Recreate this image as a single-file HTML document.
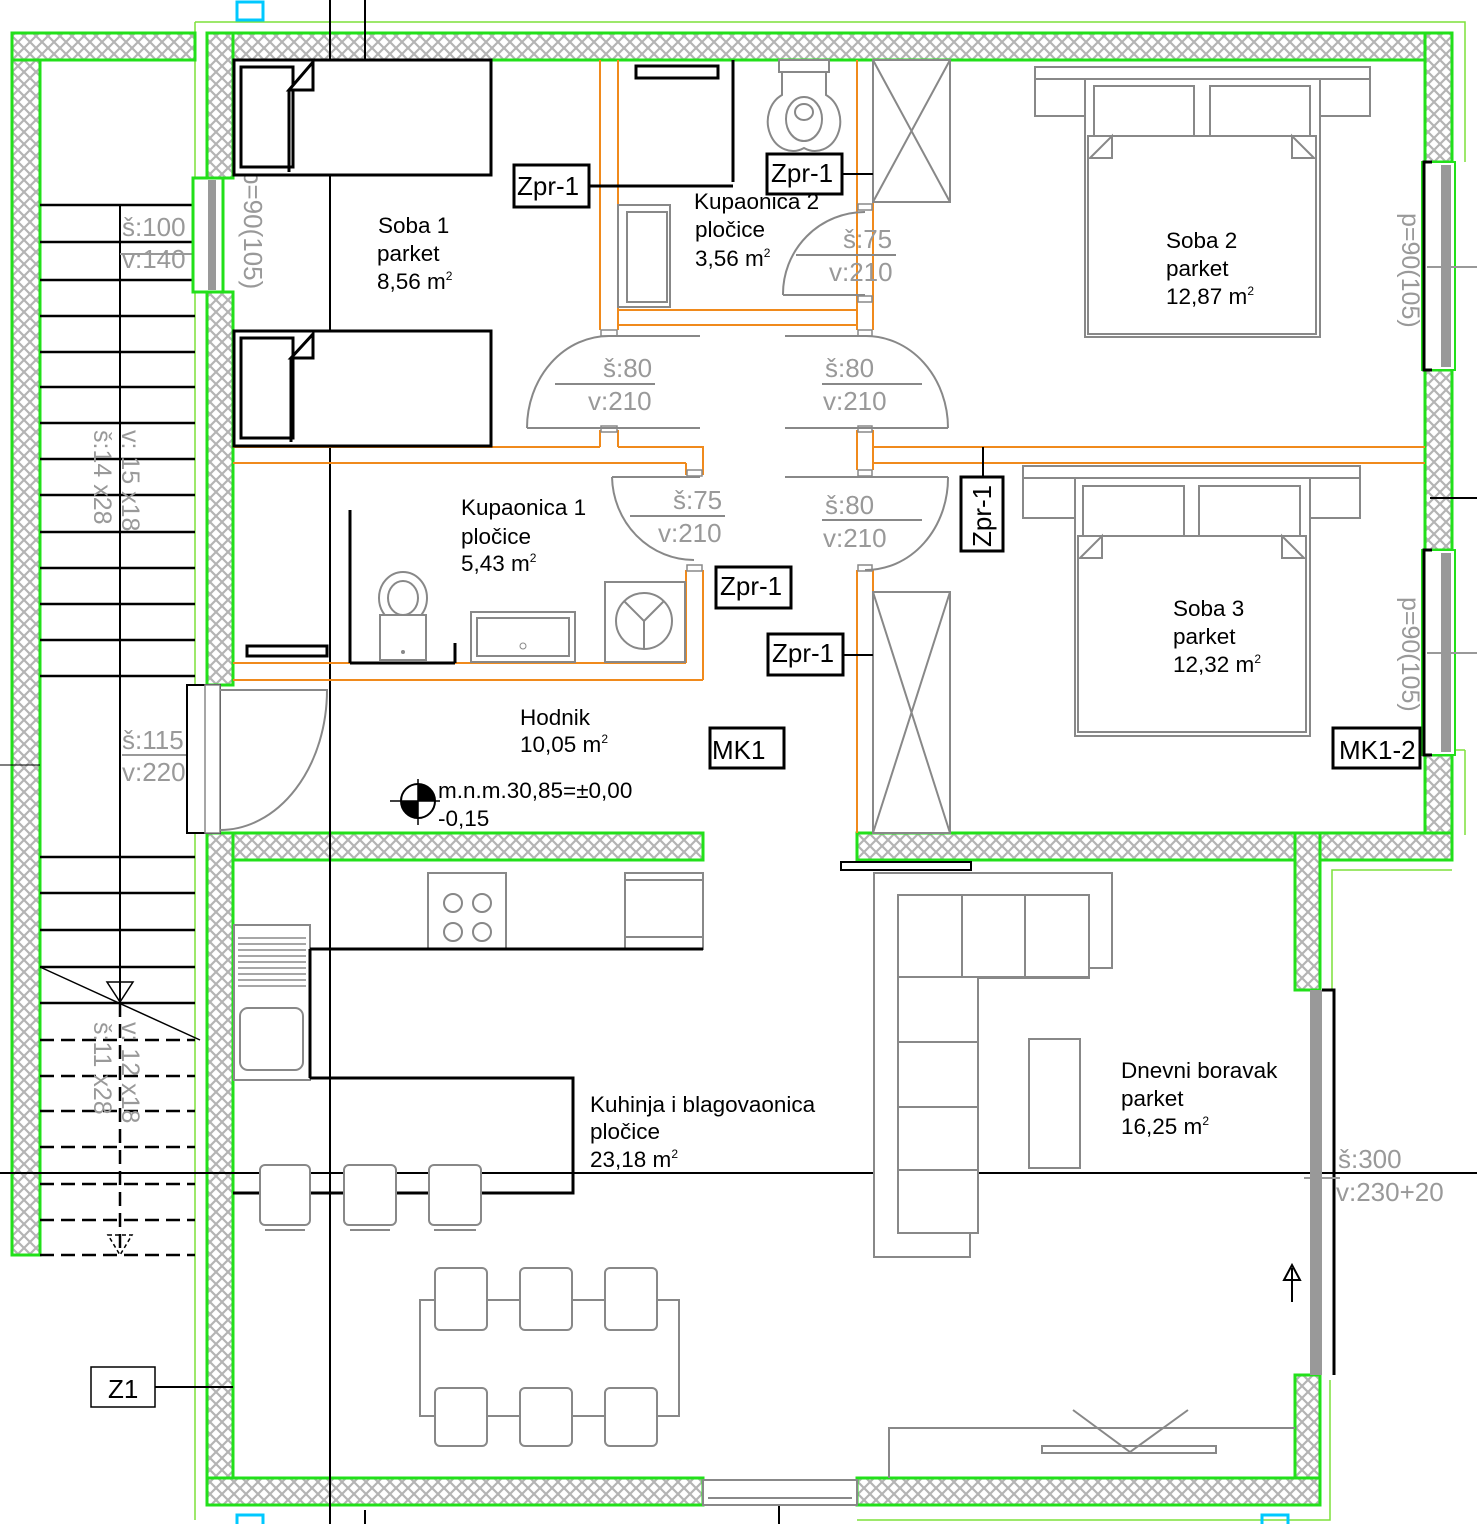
<!DOCTYPE html>
<html><head><meta charset="utf-8"><style>
html,body{margin:0;padding:0;background:#fff;width:1477px;height:1524px;overflow:hidden}
svg{display:block}
text{font-family:"Liberation Sans",sans-serif}
</style></head><body>
<svg width="1477" height="1524" viewBox="0 0 1477 1524" xmlns="http://www.w3.org/2000/svg">
<defs>
<pattern id="h" width="12" height="12" patternUnits="userSpaceOnUse">
<rect width="12" height="12" fill="#fff"/>
<path d="M0 0L12 12M12 0L0 12" stroke="#b4b4b4" stroke-width="2.2"/>
</pattern>
</defs>
<path d="M195 22H1465V162M1452 870H1332V990M195 22V178M195 292V1520M1330 1380V1520H857" fill="none" stroke="#7de03a" stroke-width="1.5"/>
<line x1="1452" y1="750" x2="1465" y2="750" stroke="#7de03a" stroke-width="1.5"/>
<line x1="1465" y1="750" x2="1465" y2="835" stroke="#7de03a" stroke-width="1.5"/>
<g fill="url(#h)" stroke="#22e01a" stroke-width="3">
<rect x="12" y="33" width="28" height="1222"/>
<rect x="12" y="33" width="183" height="27"/>
<rect x="207" y="33" width="1245" height="27"/>
<rect x="207" y="33" width="26" height="145"/>
<rect x="207" y="292" width="26" height="393"/>
<rect x="1425" y="33" width="27" height="129"/>
<rect x="1425" y="370" width="27" height="180"/>
<rect x="1425" y="755" width="27" height="105"/>
<rect x="857" y="833" width="595" height="27"/>
<rect x="1295" y="833" width="25" height="157"/>
<rect x="1295" y="1375" width="25" height="130"/>
<rect x="207" y="833" width="496" height="27"/>
<rect x="207" y="833" width="26" height="672"/>
<rect x="207" y="1478" width="496" height="27"/>
<rect x="857" y="1478" width="463" height="27"/>
</g>
<rect x="237" y="2" width="26" height="18" fill="none" stroke="#00c8ff" stroke-width="3"/>
<rect x="237" y="1515" width="26" height="12" fill="none" stroke="#00c8ff" stroke-width="3"/>
<rect x="1262" y="1515" width="26" height="12" fill="none" stroke="#00c8ff" stroke-width="3"/>
<g stroke="#000" stroke-width="2.5">
<line x1="40" y1="205" x2="195" y2="205"/><line x1="40" y1="242" x2="195" y2="242"/>
<line x1="40" y1="280" x2="195" y2="280"/><line x1="40" y1="316" x2="195" y2="316"/>
<line x1="40" y1="352" x2="195" y2="352"/><line x1="40" y1="387" x2="195" y2="387"/>
<line x1="40" y1="423" x2="195" y2="423"/><line x1="40" y1="459" x2="195" y2="459"/>
<line x1="40" y1="495" x2="195" y2="495"/><line x1="40" y1="532" x2="195" y2="532"/>
<line x1="40" y1="568" x2="195" y2="568"/><line x1="40" y1="604" x2="195" y2="604"/>
<line x1="40" y1="640" x2="195" y2="640"/><line x1="40" y1="676" x2="195" y2="676"/>
<line x1="40" y1="857" x2="195" y2="857"/><line x1="40" y1="893" x2="195" y2="893"/>
<line x1="40" y1="930" x2="195" y2="930"/><line x1="40" y1="967" x2="195" y2="967"/>
<line x1="40" y1="1003" x2="195" y2="1003"/>
</g>
<g stroke="#000" stroke-width="2.5" stroke-dasharray="14,7">
<line x1="40" y1="1040" x2="195" y2="1040"/><line x1="40" y1="1076" x2="195" y2="1076"/>
<line x1="40" y1="1111" x2="195" y2="1111"/><line x1="40" y1="1147" x2="195" y2="1147"/>
<line x1="40" y1="1184" x2="195" y2="1184"/><line x1="40" y1="1220" x2="195" y2="1220"/>
<line x1="40" y1="1255" x2="195" y2="1255"/>
<line x1="120" y1="1003" x2="120" y2="1255"/>
</g>
<line x1="120" y1="205" x2="120" y2="1003" stroke="#000" stroke-width="2"/>
<line x1="40" y1="967" x2="200" y2="1040" stroke="#000" stroke-width="1.5"/>
<path d="M107 982L133 982L120 1002Z" fill="none" stroke="#000" stroke-width="1.5"/>
<path d="M108 1235L132 1235L120 1255Z" fill="none" stroke="#000" stroke-width="1.5" stroke-dasharray="4,3"/>
<g fill="#999" font-size="26">
<text transform="translate(94,430) rotate(90)" font-size="25">š:14 x28</text>
<text transform="translate(122,430) rotate(90)" font-size="25">v: 15 x18</text>
<text transform="translate(94,1022) rotate(90)" font-size="25">š:11 x28</text>
<text transform="translate(122,1022) rotate(90)" font-size="25">v: 12 x18</text>
<text x="122" y="236">š:100</text><text x="122" y="268">v:140</text>
<text x="122" y="749">š:115</text><text x="122" y="781">v:220</text>
</g>
<line x1="40" y1="242" x2="215" y2="242" stroke="#000" stroke-width="2"/>
<line x1="120" y1="254" x2="195" y2="254" stroke="#999" stroke-width="2"/>
<line x1="122" y1="755" x2="190" y2="755" stroke="#999" stroke-width="2"/>
<rect x="193" y="178" width="30" height="114" fill="#fff" stroke="#22e01a" stroke-width="3"/>
<rect x="208" y="180" width="8" height="110" fill="#999"/>
<text transform="translate(244,170) rotate(90)" fill="#999" font-size="26">p=90(105)</text>
<rect x="187" y="685" width="33" height="148" fill="#fff" stroke="#000" stroke-width="2"/>
<path d="M220 690L327 690A107 140 0 0 1 220 830" fill="none" stroke="#888" stroke-width="2"/>
<rect x="205" y="685" width="15" height="148" fill="#fff" stroke="#888" stroke-width="1.5"/>
<g stroke="#000" stroke-width="2">
<line x1="330" y1="0" x2="330" y2="1524"/>
<line x1="365" y1="0" x2="365" y2="62"/>
<line x1="365" y1="1510" x2="365" y2="1524"/>
<line x1="0" y1="1173" x2="1477" y2="1173"/>
<line x1="779" y1="1480" x2="779" y2="1524"/>
</g>
<g stroke="#f08a1c" stroke-width="2" fill="none">
<path d="M600 60V330M618 60V330M600 430V447M618 430V447"/>
<path d="M618 310H857M618 325H857"/>
<path d="M857 60V330M873 60V330M857 430V470M873 430V470M857 570V833M873 570V833"/>
<path d="M233 447H600M233 463H686M618 447H703V463"/>
<path d="M686 463V475M703 447V475M686 570V663M703 570V680"/>
<path d="M233 663H686M233 680H703"/>
<path d="M873 447H1425M873 463H1425"/>
</g>
<g fill="#fff" stroke="#888" stroke-width="1.5">
<rect x="601" y="330" width="16" height="6"/><rect x="601" y="426" width="16" height="6"/>
<rect x="858" y="330" width="14" height="6"/><rect x="858" y="426" width="14" height="6"/>
<rect x="858" y="204" width="14" height="6"/><rect x="858" y="296" width="14" height="6"/>
<rect x="858" y="470" width="14" height="6"/><rect x="858" y="565" width="14" height="6"/>
<rect x="687" y="470" width="15" height="6"/><rect x="687" y="565" width="15" height="6"/>
</g>
<g stroke="#888" stroke-width="2" fill="none">
<path d="M527 428A82 92 0 0 1 609 336L700 336"/><path d="M527 428H700"/>
<path d="M948 428A82 92 0 0 0 865 336L785 336"/><path d="M785 428H948"/>
<path d="M783 295A82 82 0 0 1 865 212"/><path d="M783 295H865"/>
<path d="M612 477A82 85 0 0 0 694 560"/><path d="M612 477H700"/>
<path d="M948 477A82 92 0 0 1 865 570"/><path d="M785 477H948"/>
</g>
<g stroke="#888" stroke-width="2">
<line x1="555" y1="384" x2="655" y2="384"/><line x1="822" y1="384" x2="922" y2="384"/>
<line x1="822" y1="520" x2="922" y2="520"/><line x1="796" y1="255" x2="896" y2="255"/>
<line x1="630" y1="516" x2="725" y2="516"/>
</g>
<g fill="#999" font-size="26">
<text x="603" y="377">š:80</text><text x="588" y="410">v:210</text>
<text x="825" y="377">š:80</text><text x="823" y="410">v:210</text>
<text x="843" y="248">š:75</text><text x="829" y="281">v:210</text>
<text x="673" y="509">š:75</text><text x="658" y="542">v:210</text>
<text x="825" y="514">š:80</text><text x="823" y="547">v:210</text>
</g>
<g stroke="#000" stroke-width="3" fill="#fff">
<rect x="234" y="60" width="257" height="115"/>
<rect x="241" y="67" width="52" height="100"/>
<path d="M289 90L313 62V90ZM289 90V172"/>
<rect x="234" y="331" width="257" height="115"/>
<rect x="241" y="338" width="52" height="100"/>
<path d="M291 358L313 334V358ZM291 358V442"/>
</g>
<g stroke="#000" stroke-width="3" fill="none">
<rect x="636" y="66" width="82" height="12"/>
<line x1="733" y1="60" x2="733" y2="182"/>
<line x1="590" y1="186" x2="733" y2="186"/>
<line x1="350" y1="510" x2="350" y2="663"/>
<rect x="247" y="646" width="80" height="10"/>
<line x1="350" y1="663" x2="455" y2="663"/>
<line x1="455" y1="643" x2="455" y2="663"/>
</g>
<g stroke="#888" stroke-width="2" fill="#fff">
<rect x="618" y="205" width="52" height="102"/><rect x="627" y="212" width="40" height="90"/>
<rect x="779" y="60" width="50" height="12"/>
<path d="M782 72H826V95A24 28 0 0 1 804 148A24 28 0 0 1 782 95Z"/>
<ellipse cx="804" cy="119" rx="18" ry="22"/><ellipse cx="804" cy="112" rx="9" ry="8"/>
<rect x="873" y="60" width="77" height="142"/><path d="M873 60L950 202M950 60L873 202" fill="none"/>
<rect x="873" y="592" width="77" height="241"/><path d="M873 592L950 833M950 592L873 833" fill="none"/>
<ellipse cx="403" cy="598" rx="24" ry="26"/><ellipse cx="403" cy="598" rx="15" ry="17"/>
<rect x="380" y="615" width="46" height="45"/>
<rect x="471" y="612" width="104" height="50"/><rect x="477" y="618" width="92" height="38"/>
<rect x="605" y="582" width="80" height="80"/>
<circle cx="644" cy="621" r="28"/><path d="M644 621L624 601M644 621L664 601M644 621V649" fill="none"/>
</g>
<circle cx="523" cy="646" r="3" fill="none" stroke="#888"/>
<circle cx="403" cy="652" r="2" fill="#888"/>
<g stroke="#888" stroke-width="2" fill="#fff">
<rect x="1035" y="67" width="335" height="12"/>
<rect x="1035" y="79" width="50" height="37"/><rect x="1320" y="79" width="50" height="37"/>
<rect x="1085" y="79" width="235" height="258"/>
<rect x="1094" y="86" width="100" height="50"/><rect x="1210" y="86" width="100" height="50"/>
<rect x="1088" y="136" width="228" height="198"/>
<path d="M1090 158L1112 136V158ZM1314 158L1292 136V158Z"/>
<rect x="1023" y="466" width="337" height="12"/>
<rect x="1023" y="478" width="53" height="40"/><rect x="1307" y="478" width="53" height="40"/>
<rect x="1075" y="478" width="235" height="258"/>
<rect x="1083" y="486" width="101" height="50"/><rect x="1199" y="486" width="101" height="50"/>
<rect x="1078" y="536" width="228" height="196"/>
<path d="M1080 558L1102 536V558ZM1304 558L1282 536V558Z"/>
</g>
<g>
<rect x="1422" y="162" width="33" height="208" fill="#fff" stroke="#22e01a" stroke-width="2"/>
<rect x="1422" y="550" width="33" height="205" fill="#fff" stroke="#22e01a" stroke-width="2"/>
<rect x="1441" y="165" width="10" height="202" fill="#999"/>
<rect x="1441" y="553" width="10" height="199" fill="#999"/>
<path d="M1432 162H1424V370H1432M1432 550H1424V755H1432" fill="none" stroke="#000" stroke-width="3"/>
<line x1="1427" y1="267" x2="1477" y2="267" stroke="#999" stroke-width="2"/>
<line x1="1427" y1="653" x2="1477" y2="653" stroke="#999" stroke-width="2"/>
<line x1="1430" y1="498" x2="1477" y2="498" stroke="#000" stroke-width="2"/>
</g>
<g fill="#999" font-size="25">
<text transform="translate(1402,213) rotate(90)">p=90(105)</text>
<text transform="translate(1402,597) rotate(90)">p=90(105)</text>
</g>
<g stroke="#888" stroke-width="2" fill="#fff">
<rect x="428" y="873" width="78" height="76"/>
<circle cx="453" cy="903" r="9"/><circle cx="482" cy="903" r="9"/>
<circle cx="453" cy="932" r="9"/><circle cx="482" cy="932" r="9"/>
<rect x="625" y="873" width="78" height="76"/><line x1="625" y1="880" x2="703" y2="880"/>
<rect x="625" y="937" width="78" height="12"/>
<rect x="234" y="925" width="76" height="155"/>
<rect x="240" y="1008" width="63" height="62" rx="8"/>
</g>
<g stroke="#888" stroke-width="1.5">
<line x1="238" y1="938" x2="306" y2="938"/><line x1="238" y1="944" x2="306" y2="944"/>
<line x1="238" y1="950" x2="306" y2="950"/><line x1="238" y1="956" x2="306" y2="956"/>
<line x1="238" y1="962" x2="306" y2="962"/><line x1="238" y1="968" x2="306" y2="968"/>
<line x1="238" y1="974" x2="306" y2="974"/><line x1="238" y1="980" x2="306" y2="980"/>
<line x1="238" y1="986" x2="306" y2="986"/>
</g>
<g stroke="#000" stroke-width="3" fill="none">
<path d="M310 949H703"/>
<path d="M310 1078H573V1193H233"/>
<line x1="310" y1="949" x2="310" y2="1078"/>
</g>
<g stroke="#888" stroke-width="2" fill="#fff">
<rect x="260" y="1165" width="50" height="60" rx="5"/><rect x="344" y="1165" width="52" height="60" rx="5"/><rect x="429" y="1165" width="52" height="60" rx="5"/>
<line x1="265" y1="1230" x2="305" y2="1230"/><line x1="350" y1="1230" x2="390" y2="1230"/><line x1="434" y1="1230" x2="476" y2="1230"/>
<rect x="420" y="1300" width="259" height="116"/>
<rect x="435" y="1268" width="52" height="62" rx="5"/><rect x="520" y="1268" width="52" height="62" rx="5"/><rect x="605" y="1268" width="52" height="62" rx="5"/>
<rect x="435" y="1388" width="52" height="58" rx="5"/><rect x="520" y="1388" width="52" height="58" rx="5"/><rect x="605" y="1388" width="52" height="58" rx="5"/>
<path d="M874 873H1112V968H1089V978H978V1233H970V1257H874Z"/>
<rect x="898" y="895" width="191" height="82"/>
<line x1="962" y1="895" x2="962" y2="977"/><line x1="1025" y1="895" x2="1025" y2="977"/>
<rect x="898" y="977" width="80" height="256"/>
<line x1="898" y1="1042" x2="978" y2="1042"/><line x1="898" y1="1107" x2="978" y2="1107"/><line x1="898" y1="1170" x2="978" y2="1170"/>
<rect x="1029" y="1039" width="51" height="129"/>
</g>
<path d="M889 1478V1428H1295" fill="none" stroke="#888" stroke-width="2"/>
<rect x="1042" y="1446" width="174" height="7" fill="#fff" stroke="#888" stroke-width="2"/>
<path d="M1073 1410L1130 1452L1188 1410" fill="none" stroke="#888" stroke-width="2"/>
<rect x="841" y="862" width="130" height="8" fill="#fff" stroke="#000" stroke-width="2"/>
<rect x="703" y="1480" width="154" height="25" fill="#fff" stroke="#888" stroke-width="2"/>
<line x1="708" y1="1498" x2="852" y2="1498" stroke="#888" stroke-width="2"/>
<rect x="1310" y="990" width="12" height="385" fill="#999"/>
<path d="M1322 990H1334V1375" fill="none" stroke="#000" stroke-width="3"/>
<line x1="1304" y1="1178" x2="1340" y2="1178" stroke="#999" stroke-width="2"/>
<path d="M1292 1302V1268M1284 1280L1292 1265L1300 1280Z" fill="none" stroke="#000" stroke-width="2"/>
<g fill="#999" font-size="26">
<text x="1338" y="1168">š:300</text><text x="1336" y="1201">v:230+20</text>
</g>
<g fill="#000" font-size="22.5">
<text x="378" y="233">Soba 1</text><text x="377" y="261">parket</text><text x="377" y="289">8,56 m<tspan font-size="12" dy="-9">2</tspan></text>
<text x="694" y="209">Kupaonica 2</text><text x="695" y="237">pločice</text><text x="695" y="266">3,56 m<tspan font-size="12" dy="-9">2</tspan></text>
<text x="1166" y="248">Soba 2</text><text x="1166" y="276">parket</text><text x="1166" y="304">12,87 m<tspan font-size="12" dy="-9">2</tspan></text>
<text x="461" y="515">Kupaonica 1</text><text x="461" y="544">pločice</text><text x="461" y="571">5,43 m<tspan font-size="12" dy="-9">2</tspan></text>
<text x="1173" y="616">Soba 3</text><text x="1173" y="644">parket</text><text x="1173" y="672">12,32 m<tspan font-size="12" dy="-9">2</tspan></text>
<text x="520" y="725">Hodnik</text><text x="520" y="752">10,05 m<tspan font-size="12" dy="-9">2</tspan></text>
<text x="438" y="798">m.n.m.30,85=±0,00</text><text x="438" y="826">-0,15</text>
<text x="1121" y="1078">Dnevni boravak</text><text x="1121" y="1106">parket</text><text x="1121" y="1134">16,25 m<tspan font-size="12" dy="-9">2</tspan></text>
<text x="590" y="1112">Kuhinja i blagovaonica</text><text x="590" y="1139">pločice</text><text x="590" y="1167">23,18 m<tspan font-size="12" dy="-9">2</tspan></text>
</g>
<circle cx="418" cy="801" r="17" fill="#fff" stroke="#000" stroke-width="2"/>
<path d="M418 801V784A17 17 0 0 1 435 801ZM418 801H401A17 17 0 0 0 418 818Z" fill="#000"/>
<line x1="390" y1="801" x2="440" y2="801" stroke="#000" stroke-width="1.5"/>
<line x1="418" y1="779" x2="418" y2="825" stroke="#000" stroke-width="1.5"/>
<g stroke="#000" stroke-width="3" fill="#fff">
<rect x="514" y="165" width="75" height="42"/><rect x="767" y="154" width="75" height="40"/>
<rect x="716" y="567" width="75" height="41"/><rect x="768" y="634" width="75" height="41"/>
<rect x="961" y="477" width="42" height="74"/>
<rect x="710" y="728" width="74" height="40"/><rect x="1333" y="728" width="87" height="40"/>
</g>
<rect x="91" y="1367" width="64" height="40" fill="#fff" stroke="#000" stroke-width="1.5"/>
<g stroke="#000" stroke-width="2">
<line x1="842" y1="174" x2="873" y2="174"/><line x1="843" y1="655" x2="873" y2="655"/>
<line x1="983" y1="447" x2="983" y2="477"/><line x1="155" y1="1387" x2="233" y2="1387"/>
<line x1="0" y1="765" x2="40" y2="765" stroke-width="1"/>
</g>
<g font-size="26" fill="#000">
<text x="517" y="195">Zpr-1</text><text x="771" y="182">Zpr-1</text>
<text x="720" y="595">Zpr-1</text><text x="772" y="662">Zpr-1</text>
<text transform="translate(991,547) rotate(-90)">Zpr-1</text>
<text x="712" y="759">MK1</text><text x="1339" y="759">MK1-2</text>
<text x="108" y="1398">Z1</text>
</g>
</svg>
</body></html>
